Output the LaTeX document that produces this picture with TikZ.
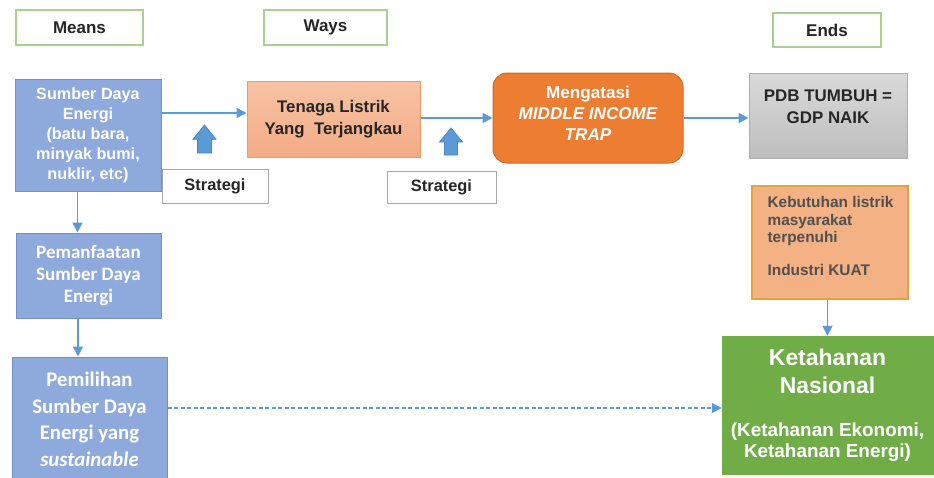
\documentclass[tikz,border=0pt]{standalone}
\usepackage{fontspec}
\setmainfont{Liberation Sans}
\newfontfamily\calfont{Carlito}
\usetikzlibrary{arrows.meta,calc}
\definecolor{arrblue}{HTML}{5B9BD5}
\definecolor{arrbluedk}{HTML}{4A86BE}
\definecolor{boxblue}{HTML}{8EA9DB}
\definecolor{boxbluedk}{HTML}{6F8FC6}
\definecolor{hdrgreen}{HTML}{A9D18E}
\definecolor{peachtop}{HTML}{F7C3A6}
\definecolor{peachbot}{HTML}{F4AB84}
\definecolor{peachdk}{HTML}{F09A66}
\definecolor{orangebox}{HTML}{ED7D31}
\definecolor{orangedk}{HTML}{D06A22}
\definecolor{graytop}{HTML}{DADADA}
\definecolor{graybot}{HTML}{BDBDBD}
\definecolor{graydk}{HTML}{ADADAD}
\definecolor{needfill}{HTML}{F4B183}
\definecolor{needdk}{HTML}{E3A33E}
\definecolor{greenbox}{HTML}{70AD47}
\definecolor{txtdark}{HTML}{262626}
\definecolor{txtgray}{HTML}{505050}
\definecolor{stratdk}{HTML}{A6A6A6}
\begin{document}
\begin{tikzpicture}[x=1pt,y=-1pt,
  hdr/.style={draw=hdrgreen,line width=1.3pt,fill=white,inner sep=0pt,
    font=\bfseries\fontsize{17}{20}\selectfont,text=txtdark},
  bluebox/.style={draw=boxbluedk,line width=1pt,fill=boxblue,inner sep=0pt,
    text=white,align=center},
  strat/.style={draw=stratdk,line width=1pt,fill=white,inner sep=0pt,
    font=\bfseries\fontsize{16.4}{20}\selectfont,text=txtdark},
  conn/.style={draw=arrblue,line width=1.5pt,-{Triangle[length=10pt,width=10pt]}},
  upblk/.style={draw=arrbluedk,fill=arrblue,line width=0.8pt,line join=miter}]
\useasboundingbox (0,0) rectangle (934,477);
\fill[white] (0,0) rectangle (934,477);

% headers
\node[hdr,minimum width=127pt,minimum height=35pt] (means) at (79.5,27.5) {Means};
\node[hdr,minimum width=123pt,minimum height=35pt] (ways) at (325.5,27.5) {Ways};
\node[hdr,minimum width=108pt,minimum height=34pt] (ends) at (827,30) {Ends};

% left column
\node[bluebox,minimum width=146pt,minimum height=112pt,
  font=\bfseries\fontsize{16.2}{20}\selectfont] (sde) at (88,135)
  {Sumber Daya\\Energi\\(batu bara,\\minyak bumi,\\nuklir, etc)};
\node[bluebox,minimum width=145pt,minimum height=85pt,
  font=\calfont\bfseries\fontsize{19}{22}\selectfont] (pemanf) at (88.5,275.5)
  {Pemanfaatan\\Sumber Daya\\Energi};
\node[bluebox,minimum width=155pt,minimum height=133pt,
  font=\calfont\bfseries\fontsize{20.8}{26.5}\selectfont] (pemil) at (89.5,423.5)
  {Pemilihan\\Sumber Daya\\Energi yang\\\itshape sustainable\\[-18pt]};

% middle
\node[strat,minimum width=106pt,minimum height=34pt] (strat1) at (215,186) {Strategi};
\coordinate (u1) at (204.5,125);
\draw[upblk] (u1) -- ++(11.5,14.3) -- ++(-4.5,0) -- ++(0,13.7) -- ++(-14,0)
  -- ++(0,-13.7) -- ++(-4.5,0) -- cycle;
\node[draw=peachdk,line width=1pt,top color=peachtop,bottom color=peachbot,
  minimum width=173pt,minimum height=76pt,inner sep=0pt,align=center,text=txtdark,
  font=\bfseries\fontsize{16.8}{22}\selectfont] (tenaga) at (333.5,119)
  {Tenaga Listrik\\Yang\ \ Terjangkau};
\node[strat,minimum width=109pt,minimum height=32pt] (strat2) at (441.5,187) {Strategi};
\coordinate (u2) at (451,128);
\draw[upblk] (u2) -- ++(11.5,14) -- ++(-5,0) -- ++(0,13) -- ++(-13,0)
  -- ++(0,-13) -- ++(-5,0) -- cycle;
\node[draw=orangedk,line width=1pt,fill=orangebox,rounded corners=14pt,
  minimum width=190pt,minimum height=90pt,inner sep=0pt,align=center,text=white,
  font=\bfseries\fontsize{17.1}{21}\selectfont] (meng) at (588,118)
  {Mengatasi\\\itshape MIDDLE INCOME\\\itshape TRAP\\[-11pt]};

% right column
\node[draw=graydk,line width=1pt,top color=graytop,bottom color=graybot,
  minimum width=158pt,minimum height=85pt,inner sep=0pt] (pdb) at (828,115.5) {};
\node[anchor=north,inner sep=2pt,align=center,text=txtdark,
  font=\bfseries\fontsize{16.9}{22}\selectfont] (pdbtxt) at ([yshift=-15pt]pdb.north)
  {PDB TUMBUH =\\GDP NAIK};
\node[draw=needdk,line width=1.2pt,fill=needfill,
  minimum width=156pt,minimum height=113pt,inner sep=0pt] (kebut) at (830,242.5) {};
\node[anchor=north west,inner sep=2pt,align=left,text=txtgray,
  font=\bfseries\fontsize{15.4}{17.5}\selectfont] (kebuttxt)
  at ([xshift=14pt,yshift=-9pt]kebut.north west)
  {Kebutuhan listrik\\masyarakat\\terpenuhi\\[15pt]Industri KUAT};
\node[draw=greenbox,fill=greenbox,minimum width=211pt,minimum height=138pt,
  inner sep=0pt,align=center,text=white,
  font=\bfseries\fontsize{22.9}{21}\selectfont] (ketah) at (827.5,405)
  {Ketahanan\\[7pt]Nasional\\[22pt]\fontsize{18.9}{21}\selectfont (Ketahanan Ekonomi,\\\fontsize{18.9}{21}\selectfont Ketahanan Energi)};

% connectors
\coordinate (r1) at (0,113);
\coordinate (dl) at (0,408);
\draw[conn] (sde.east |- r1) -- (tenaga.west |- r1);
\draw[conn] (tenaga.east |- meng.west) -- (meng.west);
\draw[conn] (meng.east) -- (meng.east -| pdb.west);
\draw[conn] ([xshift=-10.5pt]sde.south) -- ([xshift=-10.5pt]sde.south |- pemanf.north);
\draw[conn] ([xshift=-10.5pt]pemanf.south) -- ([xshift=-10.5pt]pemanf.south |- pemil.north);
\draw[conn] (kebut.south -| ketah.north) -- (ketah.north);
\draw[conn,line width=1.4pt,dash pattern=on 4pt off 2.5pt] (pemil.east |- dl) -- (ketah.west |- dl);
\end{tikzpicture}
\end{document}
